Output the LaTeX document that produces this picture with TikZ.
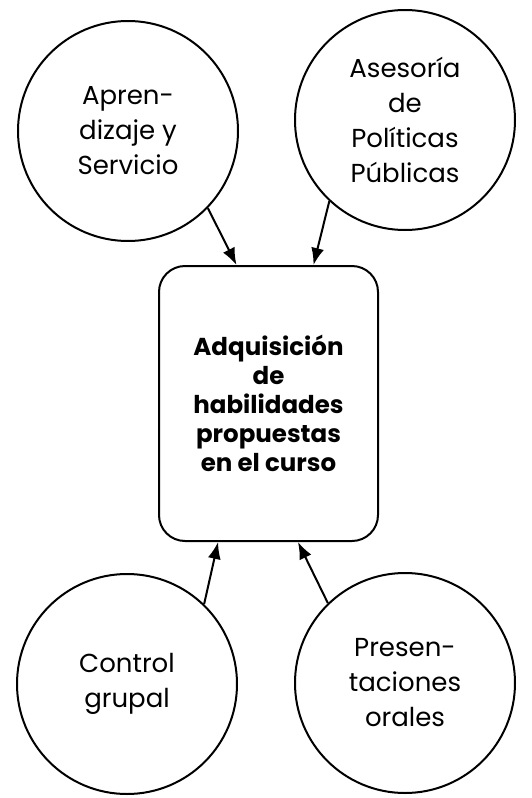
\documentclass[tikz,border=0pt]{standalone}
\usepackage{fontspec}
\setmainfont{Poppins}
\usetikzlibrary{arrows.meta}
\tikzset{
  actividad/.style={shape=circle, draw=black, line width=2pt, minimum size=220pt, inner sep=0pt, align=center, font=\fontsize{26}{35}\selectfont},
  meta/.style={shape=rectangle, draw=black, line width=2pt, rounded corners=26pt, minimum width=219pt, minimum height=275pt, align=center, font=\bfseries\fontsize{24.5}{29}\selectfont},
  flecha/.style={line width=2pt, -{Latex[length=17pt,width=13pt]}}
}

\begin{document}
\begin{tikzpicture}[x=1pt, y=-1pt]
    \useasboundingbox (0,0) rectangle (531,798);

                \node[actividad] (A) at (128,131) {Apren-\\dizaje y\\Servicio};
                \node[actividad] (B) at (405,120) {Asesoría\\de\\Políticas\\Públicas};
                \node[meta] (M) at (268.5,403.5) {Adquisición\\de\\habilidades\\propuestas\\en el curso};
                \node[actividad] (C) at (127,684) {Control\\grupal};
                \node[actividad] (D) at (405,683) {Presen-\\taciones\\orales};

                \draw[flecha] (A.-44) -- (M.103);
                \draw[flecha] (B.-133) -- (M.72);
                \draw[flecha] (C.46) -- (M.250);
                \draw[flecha] (D.134) -- (M.282);

            \end{tikzpicture}
\end{document}
